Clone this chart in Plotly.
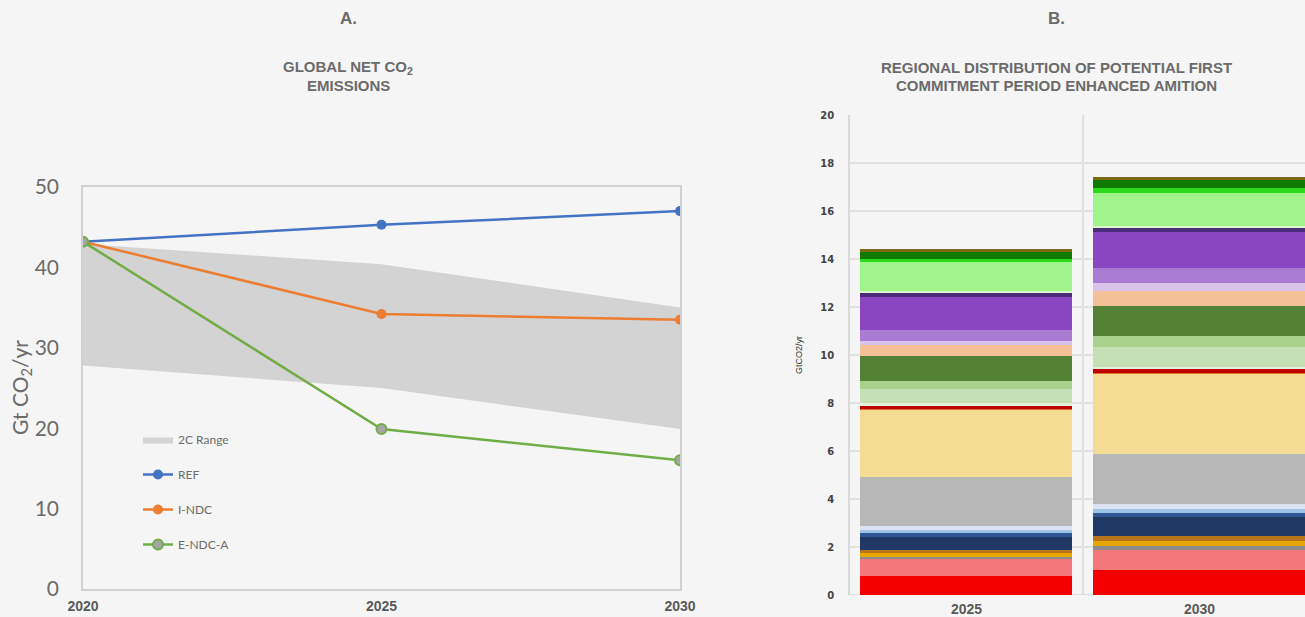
import plotly.graph_objects as go

# ---------------- Data: panel A ----------------
years = [2020, 2025, 2030]
ref_vals = [43.2, 45.3, 47.0]
indc_vals = [43.2, 34.2, 33.5]
endca_vals = [43.2, 19.9, 16.0]
range_low = [27.8, 25.0, 19.9]
range_high = [42.9, 40.4, 35.0]

# ---------------- Data: panel B ----------------
bar_years = ["2025", "2030"]
seg_2025 = [0.80, 0.74, 0.05, 0.15, 0.13, 0.53, 0.19, 0.12, 0.17, 2.05,
            2.78, 0.05, 0.12, 0.12, 0.57, 0.36, 1.03, 0.44, 0.20, 0.44,
            1.39, 0.14, 0.11, 1.21, 0.09, 0.32, 0.10]
seg_2030 = [1.05, 0.83, 0.15, 0.24, 0.18, 0.79, 0.19, 0.15, 0.21, 2.09,
            3.33, 0.05, 0.14, 0.11, 0.84, 0.44, 1.25, 0.64, 0.33, 0.60,
            1.53, 0.14, 0.10, 1.38, 0.18, 0.35, 0.14]
seg_colors = ["#F50000", "#F4777A", "#8C8C8C", "#E6A800", "#B8741A", "#1F3864",
              "#2F5597", "#9DC3E6", "#DAE3F3", "#B7B7B7", "#F4DC94", "#E07020",
              "#C00000", "#E2EFDA", "#C5E0B4", "#A9D18E", "#548235", "#F4C095",
              "#D9C3E9", "#A97BD3", "#8A45C0", "#4B2B7A", "#D8F5CC", "#A1F38C",
              "#2ED81A", "#117A00", "#7A6A10"]

BG = "#F5F5F5"
W, H = 1305, 617

fig = go.Figure()

# 2C range band
fig.add_trace(go.Scatter(x=years, y=range_low, mode="lines", line=dict(width=0, color="#D3D3D3"),
                         showlegend=False, hoverinfo="skip", xaxis="x", yaxis="y"))
fig.add_trace(go.Scatter(x=years, y=range_high, mode="lines", line=dict(width=0, color="#D3D3D3"),
                         fill="tonexty", fillcolor="#D3D3D3", name="2C Range", legendgroup="g0",
                         xaxis="x", yaxis="y"))
fig.add_trace(go.Scatter(x=years, y=ref_vals, mode="lines+markers", name="REF", legendgroup="g1",
                         line=dict(color="#4472C4", width=2.5),
                         marker=dict(color="#4472C4", size=10), xaxis="x", yaxis="y"))
fig.add_trace(go.Scatter(x=years, y=indc_vals, mode="lines+markers", name="I-NDC", legendgroup="g2",
                         line=dict(color="#ED7D31", width=2.5),
                         marker=dict(color="#ED7D31", size=10), xaxis="x", yaxis="y"))
fig.add_trace(go.Scatter(x=years, y=endca_vals, mode="lines+markers", name="E-NDC-A", legendgroup="g3",
                         line=dict(color="#70AD47", width=2.5),
                         marker=dict(color="#A5A5A5", size=10, line=dict(color="#70AD47", width=2)),
                         xaxis="x", yaxis="y"))

# stacked bars
for i, c in enumerate(seg_colors):
    fig.add_trace(go.Bar(x=bar_years, y=[seg_2025[i], seg_2030[i]], marker=dict(color=c, line=dict(width=0)),
                         showlegend=False, xaxis="x2", yaxis="y2", name=f"Region {i+1}"))

def px_x(p):
    return p / W

def px_y(p):
    return (H - p) / H

fig.update_layout(
    width=W, height=H,
    paper_bgcolor=BG, plot_bgcolor=BG,
    margin=dict(l=0, r=0, t=0, b=0, autoexpand=False),
    barmode="stack", bargap=0.09,
    showlegend=True,
    legend=dict(x=px_x(138), y=px_y(425), xanchor="left", yanchor="top",
                bgcolor="rgba(0,0,0,0)", font=dict(family="Lato, Liberation Sans", size=12, color="#6B6B6B"),
                tracegroupgap=16, itemwidth=30),
    xaxis=dict(domain=[px_x(83), px_x(680)], range=[2020, 2030], tickvals=years,
               ticktext=[str(y) for y in years], showgrid=False, zeroline=False,
               showline=True, mirror=True, linecolor="#D0D0D0", linewidth=1.5,
               ticks="outside", ticklen=3, tickcolor="rgba(0,0,0,0)", automargin=False,
               tickfont=dict(family="Liberation Sans", size=14, color="#5A5A5A", weight="bold"),
               anchor="y"),
    yaxis=dict(domain=[px_y(589), px_y(187)], range=[0, 50], tickvals=[0, 10, 20, 30, 40, 50],
               showgrid=False, zeroline=False, showline=True, mirror=True, linecolor="#D0D0D0",
               linewidth=1.5, ticks="outside", ticklen=18, tickcolor="rgba(0,0,0,0)", automargin=False,
               tickfont=dict(family="Lato, Liberation Sans", size=21, color="#6B6B6B"),
               anchor="x"),
    xaxis2=dict(domain=[px_x(850), 1.0], range=[-0.5, 1.453], showgrid=False, zeroline=False,
                showline=False, ticks="outside", ticklen=1, tickcolor="rgba(0,0,0,0)", automargin=False,
                tickfont=dict(family="Liberation Sans", size=14, color="#5A5A5A", weight="bold"),
                anchor="y2"),
    yaxis2=dict(domain=[px_y(595), px_y(115)], range=[0, 20], dtick=2,
                showgrid=True, gridcolor="#E2E2E2", gridwidth=1.5, zeroline=False,
                showline=True, linecolor="#D9D9D9", linewidth=1.5, automargin=False,
                ticks="outside", ticklen=12, tickcolor="rgba(0,0,0,0)",
                tickfont=dict(family="DejaVu Sans", size=10, color="#444444", weight="bold"),
                title=dict(text="GtCO2/yr", standoff=16,
                           font=dict(family="Liberation Sans", size=9, color="#333333")),
                anchor="x2"),
)

# category separator line and bottom axis for panel B
fig.add_shape(type="line", xref="x2", yref="y2 domain", x0=0.5, x1=0.5, y0=0, y1=1,
              line=dict(color="#D9D9D9", width=1.5), layer="below")
fig.add_shape(type="line", xref="x2 domain", yref="y2", x0=0, x1=1, y0=0, y1=0,
              line=dict(color="#D9D9D9", width=1.5), layer="below")

title_font = dict(family="Liberation Sans", size=15, color="#6B6B6B", weight="bold")
head_font = dict(family="Liberation Sans", size=17, color="#6B6B6B", weight="bold")
ann = [
    dict(text="A.", x=px_x(348), y=px_y(18), font=head_font),
    dict(text="GLOBAL NET CO<sub>2</sub>", x=px_x(348), y=px_y(67), font=title_font),
    dict(text="EMISSIONS", x=px_x(348), y=px_y(85), font=title_font),
    dict(text="B.", x=px_x(1056), y=px_y(18), font=head_font),
    dict(text="REGIONAL DISTRIBUTION OF POTENTIAL FIRST", x=px_x(1056), y=px_y(67), font=title_font),
    dict(text="COMMITMENT PERIOD ENHANCED AMITION", x=px_x(1056), y=px_y(85), font=title_font),
    dict(text="Gt CO<sub>2</sub>/yr", x=px_x(21), y=px_y(388), textangle=-90,
         font=dict(family="Lato, Liberation Sans", size=21, color="#6B6B6B")),
]
for a in ann:
    fig.add_annotation(xref="paper", yref="paper", showarrow=False, xanchor="center", yanchor="middle", **a)

fig.write_html("out.html", config={"displayModeBar": False},
               post_script="document.body.style.margin='0';document.body.style.overflow='hidden';")
